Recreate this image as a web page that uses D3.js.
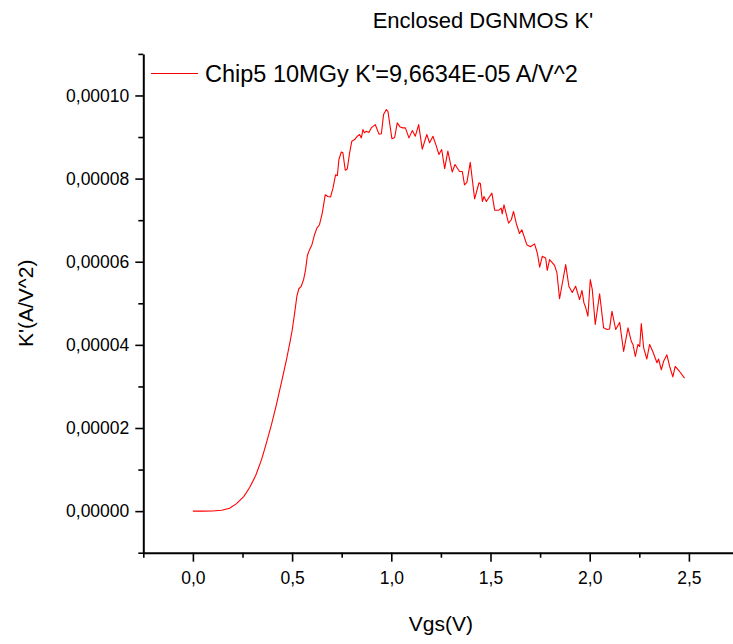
<!DOCTYPE html>
<html>
<head>
<meta charset="utf-8">
<script src="https://cdn.jsdelivr.net/npm/d3@7"></script>
<style>
  body { margin: 0; background: #fff; }
  svg text { font-family: "Liberation Sans", Arial, Helvetica, sans-serif; fill: #000; }
  .axis path, .axis line { stroke: #000; }
</style>
</head>
<body>
<div id="chart"></div>
<script>
"use strict";
// Vgs in volts
var vgs = [0.000, 0.049, 0.099, 0.145, 0.185, 0.220, 0.256, 0.286, 0.316, 0.346,
  0.371, 0.396, 0.421, 0.446, 0.472, 0.492, 0.501, 0.513, 0.524, 0.534,
  0.546, 0.558, 0.568, 0.577, 0.588, 0.600, 0.613, 0.625, 0.638, 0.652,
  0.667, 0.680, 0.694, 0.706, 0.719, 0.728, 0.736, 0.748, 0.756, 0.768,
  0.778, 0.790, 0.801, 0.815, 0.829, 0.840, 0.849, 0.857, 0.865, 0.874,
  0.887, 0.899, 0.919, 0.938, 0.950, 0.961, 0.975, 0.983, 1.003, 1.017,
  1.030, 1.045, 1.058, 1.071, 1.089, 1.106, 1.121, 1.138, 1.156, 1.179,
  1.193, 1.210, 1.227, 1.240, 1.254, 1.269, 1.285, 1.307, 1.321, 1.344,
  1.358, 1.369, 1.381, 1.398, 1.420, 1.442, 1.449, 1.459, 1.467, 1.479,
  1.507, 1.521, 1.542, 1.554, 1.559, 1.568, 1.591, 1.605, 1.616, 1.630,
  1.646, 1.658, 1.683, 1.701, 1.722, 1.736, 1.748, 1.761, 1.778, 1.786,
  1.798, 1.823, 1.835, 1.848, 1.879, 1.895, 1.912, 1.929, 1.949, 1.961,
  1.971, 1.979, 1.991, 2.003, 2.013, 2.028, 2.050, 2.070, 2.087, 2.100,
  2.112, 2.131, 2.151, 2.171, 2.193, 2.210, 2.218, 2.230, 2.243, 2.252,
  2.260, 2.272, 2.288, 2.302, 2.318, 2.339, 2.347, 2.361, 2.372, 2.389,
  2.403, 2.419, 2.431, 2.453, 2.478];

// K' in units of 1e-5 A/V^2
var kPrime = [0.00, 0.00, 0.005, 0.02, 0.07, 0.18, 0.35, 0.57, 0.85, 1.24,
  1.65, 2.08, 2.56, 3.09, 3.65, 4.13, 4.37, 4.77, 5.17, 5.35,
  5.41, 5.57, 5.81, 6.15, 6.29, 6.41, 6.65, 6.81, 6.89, 7.17,
  7.61, 7.57, 7.56, 7.77, 8.09, 8.07, 8.46, 8.64, 8.62, 8.20,
  8.23, 8.62, 8.90, 8.94, 9.02, 9.06, 8.98, 9.18, 9.10, 9.14,
  9.11, 9.22, 9.30, 9.07, 9.08, 9.54, 9.66, 9.62, 8.96, 8.99,
  9.34, 9.24, 9.22, 9.22, 8.98, 9.16, 9.02, 9.30, 8.71, 9.06,
  8.86, 9.02, 8.78, 8.58, 8.70, 8.24, 8.66, 8.16, 8.34, 8.17,
  8.17, 7.85, 7.91, 8.39, 7.51, 7.90, 7.88, 7.45, 7.57, 7.45,
  7.65, 7.24, 7.24, 7.29, 7.15, 7.37, 6.93, 7.01, 7.21, 6.92,
  6.68, 6.77, 6.41, 6.36, 6.43, 6.21, 5.87, 6.13, 6.09, 5.79,
  6.05, 5.91, 5.73, 5.11, 5.93, 5.41, 5.26, 5.41, 5.09, 5.31,
  5.01, 4.91, 4.69, 5.57, 5.33, 4.49, 5.23, 4.41, 4.37, 4.38,
  4.81, 4.37, 4.54, 3.84, 4.41, 4.08, 4.01, 3.72, 4.01, 3.96,
  4.51, 3.93, 3.66, 4.01, 3.84, 3.57, 3.66, 3.40, 3.60, 3.76,
  3.48, 3.23, 3.48, 3.36, 3.20];

var xMajor = [0, 0.5, 1.0, 1.5, 2.0, 2.5];
var xMinor = [-0.25, 0.25, 0.75, 1.25, 1.75, 2.25];
var yMajor = [0, 2, 4, 6, 8, 10];
var yMinor = [-1, 1, 3, 5, 7, 9, 11];

var titleText = "Enclosed DGNMOS K'";
var legendText = "Chip5 10MGy K'=9,6634E-05 A/V^2";
var xTitle = "Vgs(V)";
var yTitle = "K'(A/V^2)";

var width = 733, height = 644;
var plot = { left: 143.3, right: 738.5, top: 53.9, bottom: 552.7 };

var svg = d3.select("#chart").append("svg")
  .attr("width", width).attr("height", height);
svg.append("rect").attr("width", width).attr("height", height).attr("fill", "#fff");

var x = d3.scaleLinear().domain([-0.25, 2.75]).range([plot.left, plot.right]);
var y = d3.scaleLinear().domain([-1, 11]).range([plot.bottom, plot.top]);

var commaFmt = function(f){ return function(d){ return f(d).replace(".", ","); }; };

//minor ticks
svg.append("g").attr("class", "axis")
  .attr("transform", "translate(0," + plot.bottom + ")")
  .call(d3.axisBottom(x).tickValues(xMinor).tickSize(5).tickSizeOuter(0).tickFormat(""))
  .call(function(g){ g.select(".domain").remove(); })
  .selectAll("line").attr("stroke-width", 1.6);
svg.append("g").attr("class", "axis")
  .attr("transform", "translate(" + plot.left + ",0)")
  .call(d3.axisLeft(y).tickValues(yMinor).tickSize(5).tickSizeOuter(0).tickFormat(""))
  .call(function(g){ g.select(".domain").remove(); })
  .selectAll("line").attr("stroke-width", 1.6);

//major axes
var xAxis = svg.append("g").attr("class", "axis")
  .attr("transform", "translate(0," + plot.bottom + ")")
  .call(d3.axisBottom(x).tickValues(xMajor).tickSize(9).tickSizeOuter(0)
    .tickPadding(10).tickFormat(commaFmt(d3.format(".1f"))));
xAxis.select(".domain").attr("stroke-width", 2);
xAxis.selectAll("line").attr("stroke-width", 1.6);
xAxis.selectAll("text").style("font-size", "17.5px");

var yAxis = svg.append("g").attr("class", "axis")
  .attr("transform", "translate(" + plot.left + ",0)")
  .call(d3.axisLeft(y).tickValues(yMajor).tickSize(8).tickSizeOuter(0)
    .tickPadding(6).tickFormat(function(d){ return d3.format(".5f")(d * 1e-5).replace(".", ","); }));
yAxis.select(".domain").attr("stroke-width", 2);
yAxis.selectAll("line").attr("stroke-width", 1.6);
yAxis.selectAll("text").style("font-size", "17.5px");

//curve
var pts = vgs.map(function(v, i){ return { v: v, k: kPrime[i] }; });
var line = d3.line()
  .x(function(d){ return x(d.v); })
  .y(function(d){ return y(d.k); });
svg.append("path").datum(pts)
  .attr("d", line)
  .attr("fill", "none")
  .attr("stroke", "#ff0000")
  .attr("stroke-width", 1.1)
  .attr("stroke-linejoin", "round");

//title
svg.append("text").attr("x", 483).attr("y", 28)
  .attr("text-anchor", "middle").style("font-size", "22px").text(titleText);

//legend
svg.append("line").attr("x1", 151).attr("x2", 198).attr("y1", 73.5).attr("y2", 73.5)
  .attr("stroke", "#ff0000").attr("stroke-width", 1.1);
svg.append("text").attr("x", 205).attr("y", 81.5)
  .style("font-size", "23.5px").text(legendText);

//axis titles
svg.append("text").attr("x", (plot.left + plot.right) / 2).attr("y", 631)
  .attr("text-anchor", "middle").style("font-size", "21px").text(xTitle);
svg.append("text")
  .attr("transform", "translate(33," + ((plot.top + plot.bottom) / 2) + ") rotate(-90)")
  .attr("text-anchor", "middle").style("font-size", "21px").text(yTitle);
</script>
</body>
</html>
